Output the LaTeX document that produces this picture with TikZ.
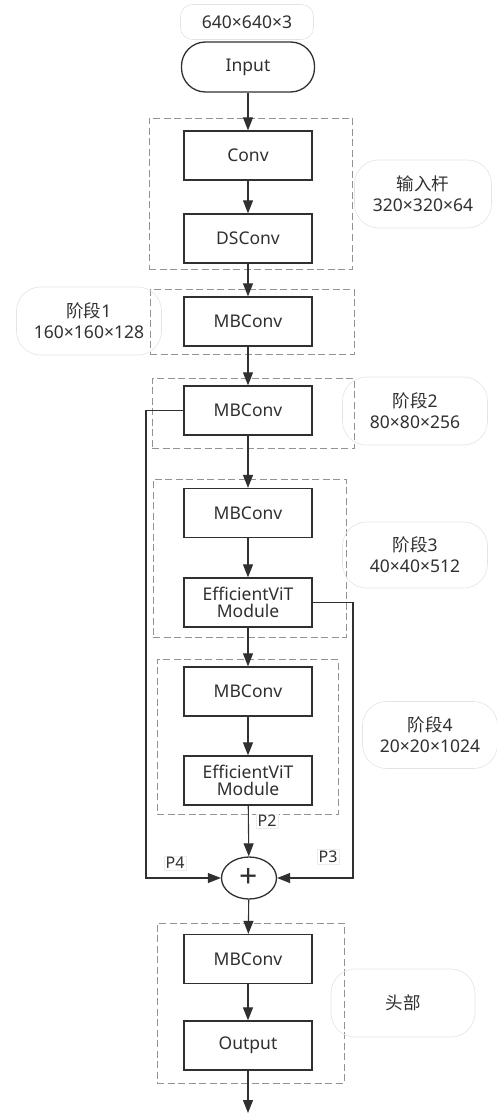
\documentclass[tikz,border=0pt]{standalone}
\usepackage{fontspec}
\setmainfont{Noto Sans}
\newfontfamily\cjk{Noto Sans CJK SC}
\usepackage{tikz}
\usetikzlibrary{arrows.meta,shapes.geometric}

\definecolor{ink}{HTML}{303030}

\begin{document}
\begin{tikzpicture}[x=1pt, y=-1pt,
  font=\fontsize{17.5}{21}\selectfont, text=ink,
  block/.style={draw=ink, line width=1.3pt, minimum width=128pt, minimum height=49pt, align=center, inner sep=2pt},
  group/.style={draw=gray!85, dash pattern=on 7pt off 3.5pt, line width=0.8pt},
  note/.style={draw=gray!22, rounded corners=24pt, align=center, line width=0.6pt},
  tag/.style={draw=gray!15, inner sep=1.5pt, font=\fontsize{16}{18}\selectfont},
  arrow/.style={draw=ink, line width=1.1pt, -{Triangle[length=13pt,width=10pt]}}]

\useasboundingbox (0,0) rectangle (497,1115);

% dashed groups
\node [group, minimum width=203pt, minimum height=151pt] (g0) at (250.5,193.5) {};
\node [group, minimum width=204pt, minimum height=65pt] (g1) at (252,321.5) {};
\node [group, minimum width=202pt, minimum height=70pt] (g2) at (253,413) {};
\node [group, minimum width=193pt, minimum height=158pt] (g3) at (249.5,558) {};
\node [group, minimum width=181pt, minimum height=155pt] (g4) at (247.5,736.5) {};
\node [group, minimum width=187pt, minimum height=160pt] (g5) at (250.5,1003) {};

\node [note, rounded corners=12pt, minimum width=133pt, minimum height=35pt] (size) at (247,22) {640×640×3};
\node [block, rounded corners=24pt, minimum width=133pt, minimum height=50pt] (in) at (248,67) {Input};

\node [block] (conv) at (248,155.5) {Conv};
\node [block] (ds) at (248,238.5) {DSConv};
\node [block] (mb1) at (248,321.5) {MBConv};
\node [block] (mb2) at (248,410.5) {MBConv};
\node [block] (mb3) at (248,513) {MBConv};
\node [block] (vit1) at (248,602.5) {EfficientViT\\[-4pt]Module};
\node [block] (mb4) at (248,691.5) {MBConv};
\node [block] (vit2) at (248,780.5) {EfficientViT\\[-4pt]Module};
\node [ellipse, draw=ink, line width=1.3pt, minimum width=55pt, minimum height=42pt, inner sep=0pt,
  font=\fontsize{32}{32}\selectfont\bfseries] (add) at (249,878) {+};
\node [block] (mb5) at (248,959) {MBConv};
\node [block] (out) at (248,1045.5) {Output};
\coordinate (end) at (248,1113);

% side notes
\node [note, minimum width=137pt, minimum height=68pt] (n0) at (423,194) {{\cjk 输入杆}\\320×320×64};
\node [note, minimum width=145pt, minimum height=68pt] (n1) at (89,321) {{\cjk 阶段}1\\160×160×128};
\node [note, minimum width=145pt, minimum height=68pt] (n2) at (415,411) {{\cjk 阶段}2\\80×80×256};
\node [note, minimum width=145pt, minimum height=66pt] (n3) at (415,555) {{\cjk 阶段}3\\40×40×512};
\node [note, minimum width=135pt, minimum height=67pt] (n4) at (430,735) {{\cjk 阶段}4\\20×20×1024};
\node [note, minimum width=144pt, minimum height=68pt] (n5) at (403,1003) {\cjk 头部};

\draw[arrow] (in) to (conv);
\draw[arrow] (conv) to (ds);
\draw[arrow] (ds) to (mb1);
\draw[arrow] (mb1) to (mb2);
\draw[arrow] (mb2) to (mb3);
\draw[arrow] (mb3) to (vit1);
\draw[arrow] (vit1) to (mb4);
\draw[arrow] (mb4) to (vit2);
\draw[arrow] (vit2) to (add);
\draw[arrow] (mb2.west) -- (146,410.5) |- (add.west);
\draw[arrow] (vit1.east) -- (353,602.5) |- (add.east);
\draw[arrow] (add) to (mb5);
\draw[arrow] (mb5) to (out);
\draw[arrow] (out) to (end);

\node [tag] (p2) at (267,821) {P2};
\node [tag] (p4) at (175,863) {P4};
\node [tag] (p3) at (328,857) {P3};
\end{tikzpicture}
\end{document}
